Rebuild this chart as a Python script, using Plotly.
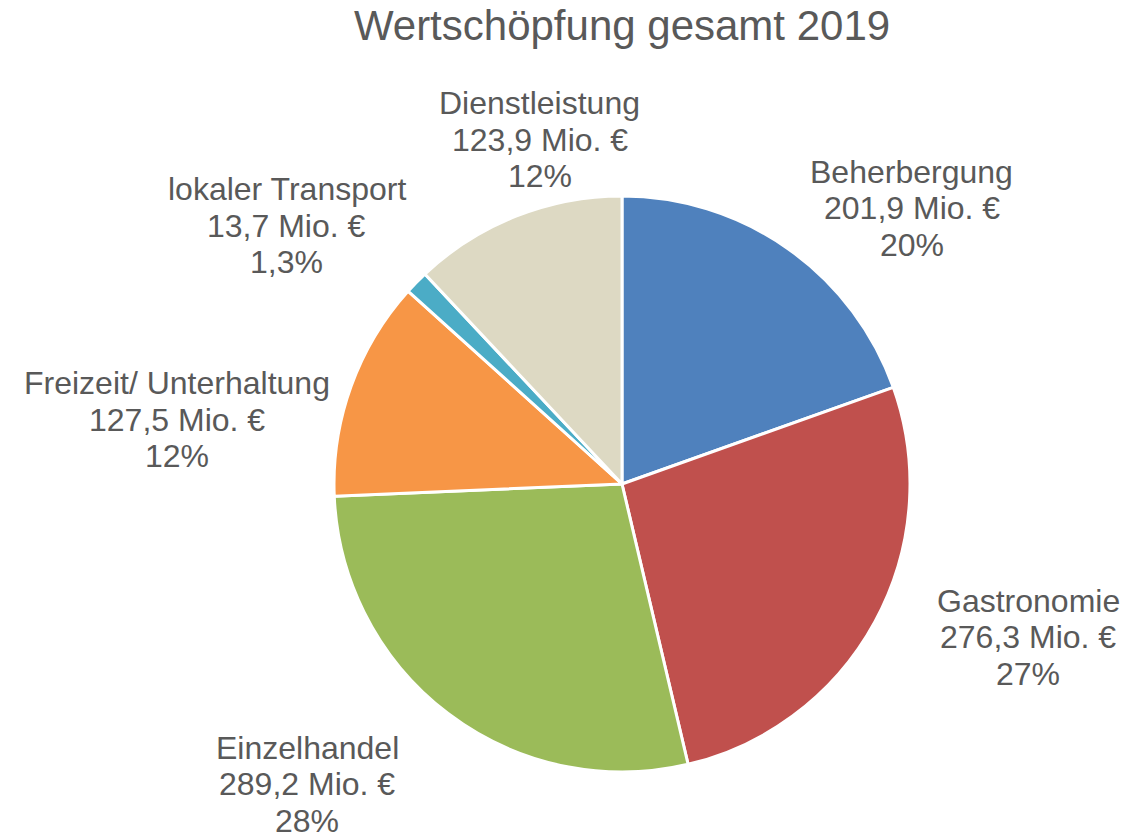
import math
import plotly.graph_objects as go

# ---- data ----
categories = ["Beherbergung", "Gastronomie", "Einzelhandel", "Freizeit/ Unterhaltung", "lokaler Transport", "Dienstleistung"]
values = [201.9, 276.3, 289.2, 127.5, 13.7, 123.9]
unit = "Mio. €"
title_text = "Wertschöpfung gesamt 2019"

# ---- style ----
colors = ["#4F81BD", "#C0504D", "#9BBB59", "#F79646", "#4BACC6", "#DDD9C3"]
FONT = "Liberation Sans"
TEXT_COLOR = "#595959"
W_FIG, H_FIG = 1143, 835
M_L, M_R, M_T, M_B = 326, 241, 188, 71
PLOT_W = W_FIG - M_L - M_R
PLOT_H = H_FIG - M_T - M_B
# label placement (polar, relative to slice middle): distance in px, angular shift in degrees
label_dist = [400, 434, 435, 450, 423, 354]
label_shift = [11.2, -7.9, 9.2, -11.6, -6.8, 8.2]
LINE_STEP = 36.5

total = sum(values)

fig = go.Figure(go.Pie(
    labels=categories,
    values=values,
    textinfo="none",
    sort=False,
    direction="clockwise",
    rotation=0,
    marker=dict(colors=colors, line=dict(color="white", width=3)),
    showlegend=False,
    hoverinfo="label+value+percent",
    domain=dict(x=[0, 1], y=[0, 1]),
))

annotations = []
cum = 0.0
cx, cy = M_L + PLOT_W / 2, M_T + PLOT_H / 2
for i, (c, v) in enumerate(zip(categories, values)):
    frac = v / total
    mid = (cum + frac / 2) * 360.0
    cum += frac
    phi = math.radians(mid + label_shift[i])
    lx = cx + label_dist[i] * math.sin(phi)
    ly = cy - label_dist[i] * math.cos(phi)
    pct = f"{frac * 100:.2g}".replace(".", ",") + "%"
    val = f"{v:.1f}".replace(".", ",") + " " + unit
    for j, line in enumerate([c, val, pct]):
        py = ly + (j - 1) * LINE_STEP
        annotations.append(dict(
            text=line, showarrow=False,
            xref="paper", yref="paper",
            x=(lx - M_L) / PLOT_W,
            y=1 - (py - M_T) / PLOT_H,
            xanchor="center", yanchor="middle",
            font=dict(family=FONT, size=32, color=TEXT_COLOR),
        ))

fig.update_layout(
    width=W_FIG, height=H_FIG,
    margin=dict(l=M_L, r=M_R, t=M_T, b=M_B),
    paper_bgcolor="white",
    plot_bgcolor="white",
    font=dict(family=FONT, color=TEXT_COLOR),
    title=dict(text=title_text, xref="paper", x=0.5, xanchor="center",
               yref="container", y=1 - 17 / H_FIG, yanchor="middle",
               font=dict(family=FONT, size=42, color=TEXT_COLOR)),
    annotations=annotations,
)

fig.write_html("out.html")
